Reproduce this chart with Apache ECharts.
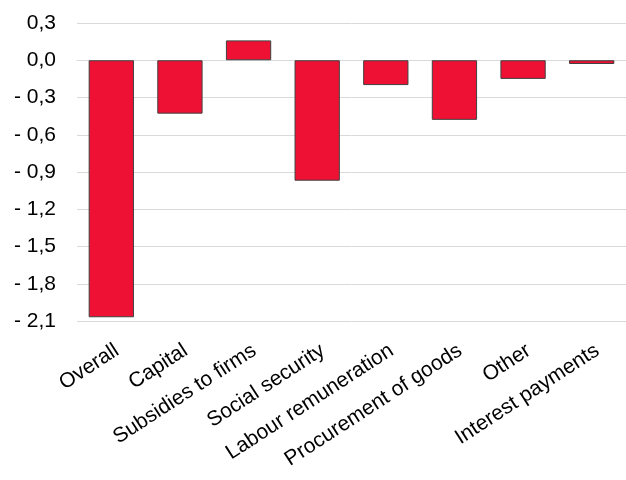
<!DOCTYPE html>
<html><head><meta charset="utf-8">
<script src="https://cdn.jsdelivr.net/npm/echarts@6/dist/echarts.min.js"></script>
<style>html,body{margin:0;padding:0;background:#fff}#c{width:626px;height:480px}</style>
</head><body><div id="c"></div>
<script>
const categories = ["Overall","Capital","Subsidies to firms","Social security","Labour remuneration","Procurement of goods","Other","Interest payments"];
const values = [-2.07,-0.43,0.16,-0.97,-0.20,-0.48,-0.15,-0.03];
const yMin = -2.1, yMax = 0.3, yStep = 0.3;

const chart = echarts.init(document.getElementById('c'));
chart.setOption({
  animation:false,
  grid:{left:77,right:0,top:23,bottom:159,containLabel:false},
  xAxis:{type:'category',data:categories,
    axisLine:{show:true,onZero:true,lineStyle:{color:'#d9d9d9',width:1}},
    axisTick:{show:false},
    axisLabel:{interval:0,rotate:33,fontFamily:'Liberation Sans',fontSize:21,color:'#000',margin:19,verticalAlign:'top'}
  },
  yAxis:{type:'value',min:yMin,max:yMax,interval:yStep,
    axisLine:{show:false},axisTick:{show:false},
    splitLine:{lineStyle:{color:'#d9d9d9',width:1}},
    axisLabel:{fontFamily:'Liberation Sans',fontSize:21,color:'#000',margin:21,
      formatter:v=>{const r=Math.round(v*10)/10; const s=Math.abs(r).toFixed(1).replace('.',','); return r<0?'- '+s:s;}}
  },
  series:[{type:'bar',data:values,barCategoryGap:'34%',
    itemStyle:{color:'#EE1133',borderColor:'#404040',borderWidth:1}}]
});
</script></body></html>
